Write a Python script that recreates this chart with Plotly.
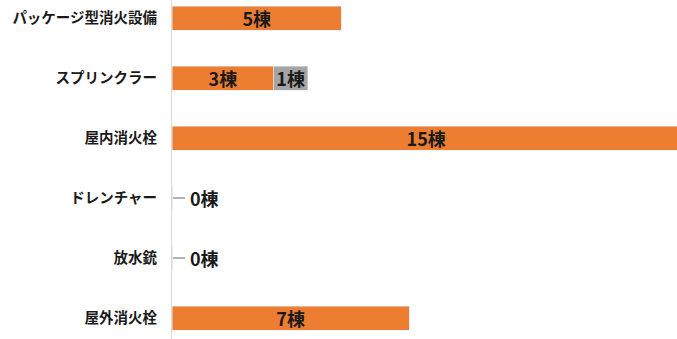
import plotly.graph_objects as go

# Fire-fighting equipment types and the number of buildings for each
categories = ["パッケージ型消火設備", "スプリンクラー", "屋内消火栓", "ドレンチャー", "放水銃", "屋外消火栓"]
main_counts = [5, 3, 15, 0, 0, 7]
extra_counts = [0, 1, 0, 0, 0, 0]
unit = "棟"

ORANGE = "#ED7D31"
GRAY = "#A5A5A5"
FONT = "Noto Sans CJK JP"
LABEL_FONT = dict(family=FONT, size=18, color="#1a1a1a", weight="bold")

fig = go.Figure()

def labels(vals):
    return [f"{v}{unit}" if v > 0 else "" for v in vals]

for vals, color in ((main_counts, ORANGE), (extra_counts, GRAY)):
    fig.add_trace(go.Bar(
        y=categories, x=vals, orientation="h", marker_color=color,
        text=labels(vals), textposition="inside", insidetextanchor="middle",
        constraintext="none", textangle=0,
        insidetextfont=LABEL_FONT,
        width=0.4, hoverinfo="skip",
    ))

# Zero-count rows: a short leader line from the axis and a label beside it
for cat, a, b in zip(categories, main_counts, extra_counts):
    total = a + b
    if total == 0:
        fig.add_shape(type="line", xref="x", yref="y", xsizemode="pixel", xanchor=total,
                      x0=1, x1=13, y0=cat, y1=cat,
                      line=dict(color="#A0A0A0", width=1.6))
        fig.add_annotation(x=total, y=cat, text=f"{total}{unit}", showarrow=False,
                           xanchor="left", xshift=16,
                           font=LABEL_FONT)

fig.update_layout(
    barmode="stack",
    width=677, height=339,
    margin=dict(l=172, r=0, t=0, b=0),
    paper_bgcolor="white", plot_bgcolor="white",
    showlegend=False,
    xaxis=dict(range=[0, 14.9], showgrid=False, zeroline=False, showticklabels=False,
               fixedrange=True),
    yaxis=dict(categoryorder="array", categoryarray=categories,
               range=[5.35, -0.3], showgrid=False, zeroline=False,
               showline=True, linecolor="#D9D9D9", linewidth=1,
               ticks="outside", ticklen=11, tickcolor="rgba(0,0,0,0)",
               tickfont=dict(family=FONT, size=14.5, color="#1a1a1a", weight="bold"),
               fixedrange=True),
)

fig.write_html("out.html")
